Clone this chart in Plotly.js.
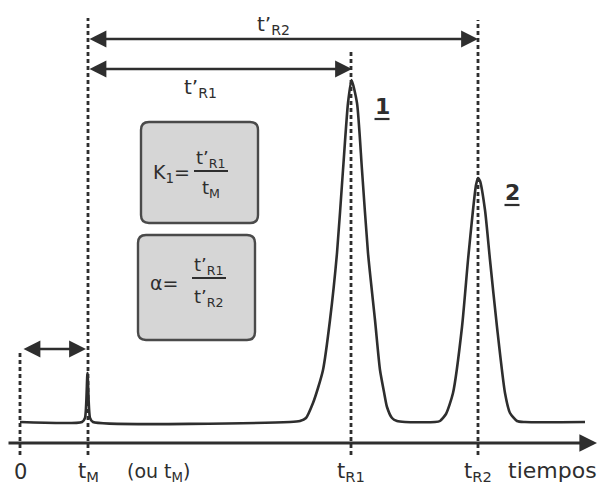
<!DOCTYPE html>
<html>
<head>
<meta charset="utf-8">
<script src="https://cdn.plot.ly/plotly-3.0.1.min.js"></script>
<style>html,body{margin:0;padding:0;background:#fff;}#chart{width:599px;height:490px;}</style>
</head>
<body>
<div id="chart"></div>
<script>
// Chromatogram trace (time units, signal units)
const curveTime = [0, 6.2, 6.5, 6.75, 7.0, 7.3, 27, 28, 28.6, 29.3, 29.8, 30.3, 31, 31.7, 32.3, 32.8, 33.15,
  33.7, 34.2, 34.8, 35.5, 36, 36.4, 36.7, 37.2, 37.7, 38.5, 41.5, 42, 42.6, 43.3, 44.2, 44.8, 45.3, 45.6, 45.8,
  46.0, 46.5, 47, 47.7, 48.5, 49, 49.7, 50.5, 56.5];
const curveSignal = [0, 0, 0.4, 4.9, 0.4, 0, 0, 0.1, 0.4, 1.9, 3.4, 5.2, 10.2, 16.9, 25.2, 31.9, 34.2,
  31.9, 25.2, 16.9, 10.2, 5.2, 3.0, 1.5, 0.4, 0.1, 0, 0, 0.1, 0.8, 2.9, 9.5, 16.2, 21.2, 23.7, 24.4,
  24.1, 21.2, 16.2, 9.5, 2.9, 0.9, 0.1, 0, 0];

// Characteristic times
const markTimes = [0, 6.8, 33.1, 45.8];          // 0, tM, tR1, tR2
const markTops  = [7.2, 40.4, 37.2, 40.2];        // top of dashed guides
const markLabels = ['0', 't<sub>M</sub>', 't<sub>R1</sub>', 't<sub>R2</sub>'];

// Interval arrows: [start, end, level]
const arrowStart = [0.2, 6.8, 6.8];
const arrowEnd   = [6.6, 33.2, 45.8];
const arrowLevel = [7.3, 35.3, 38.3];
const arrowLabels = ['', 't’<sub>R1</sub>', 't’<sub>R2</sub>'];
const arrowLabelX = [0, 18.0, 25.3];
const arrowLabelY = [0, 33.4, 39.7];

// Peak labels
const peakNames = ['<b>1</b>', '<b>2</b>'];
const peakLabelX = [36.2, 49.2];
const peakLabelY = [31.6, 23.0];

// Axis
const axisLevel = -2.1, axisStart = -1.3, axisEnd = 57.7, guideBottom = -3.3;

// Formula boxes: [t0, t1, s0, s1]
const boxT0 = [12.1, 11.8], boxT1 = [23.8, 23.5];
const boxS0 = [19.9, 8.2],  boxS1 = [30.0, 18.7];

const ink = '#2e2e2e';
const fontFam = '"DejaVu Sans", Arial, sans-serif';

const shapes = [];
// dashed guides
markTimes.forEach((t, i) => {
  shapes.push({type: 'line', x0: t, x1: t, y0: guideBottom, y1: markTops[i],
    line: {color: ink, width: 2.8, dash: '4px,3px'}});
});
// boxes with rounded corners
const r = 0.8;
for (let i = 0; i < boxT0.length; i++) {
  const a = boxT0[i], b = boxT1[i], c = boxS0[i], d = boxS1[i];
  const p = `M ${a + r},${c} L ${b - r},${c} Q ${b},${c} ${b},${c + r} L ${b},${d - r} Q ${b},${d} ${b - r},${d} ` +
            `L ${a + r},${d} Q ${a},${d} ${a},${d - r} L ${a},${c + r} Q ${a},${c} ${a + r},${c} Z`;
  shapes.push({type: 'path', path: p, fillcolor: '#d6d6d6', line: {color: '#4a4a4a', width: 2.4}, layer: 'below'});
}
// fraction bars
shapes.push({type: 'line', x0: 17.4, x1: 20.8, y0: 25.1, y1: 25.1, line: {color: ink, width: 2.2}});
shapes.push({type: 'line', x0: 17.2, x1: 20.6, y0: 14.4, y1: 14.4, line: {color: ink, width: 2.2}});
// underline of peak labels
peakLabelX.forEach((x, i) => {
  shapes.push({type: 'line', x0: x - 0.75, x1: x + 0.75, y0: peakLabelY[i] - 1.3, y1: peakLabelY[i] - 1.3,
    line: {color: ink, width: 2.2}});
});

const annotations = [];
// main time axis arrow
annotations.push({x: axisEnd, y: axisLevel, ax: axisStart, ay: axisLevel, axref: 'x', ayref: 'y',
  xref: 'x', yref: 'y', text: '', showarrow: true, arrowhead: 2, arrowsize: 1.1, arrowwidth: 3.2, arrowcolor: ink});
// interval arrows
arrowStart.forEach((s, i) => {
  annotations.push({x: arrowEnd[i], y: arrowLevel[i], ax: s, ay: arrowLevel[i], axref: 'x', ayref: 'y',
    xref: 'x', yref: 'y', text: '', showarrow: true, arrowhead: 2, startarrowhead: 2, arrowside: 'end+start',
    arrowsize: 1.3, startarrowsize: 1.3, arrowwidth: 2.6, arrowcolor: ink});
  if (arrowLabels[i]) annotations.push({x: arrowLabelX[i], y: arrowLabelY[i], text: arrowLabels[i], showarrow: false,
    font: {family: fontFam, size: 20, color: ink}});
});
// axis labels
const labelY = -5.0;
markTimes.forEach((t, i) => {
  annotations.push({x: t, y: labelY, text: markLabels[i], showarrow: false, yanchor: 'middle',
    font: {family: fontFam, size: 21, color: ink}});
});
annotations.push({x: 13.8, y: labelY, text: '(ou t<sub>M</sub>)', showarrow: false,
  font: {family: fontFam, size: 19, color: ink}});
annotations.push({x: 53.2, y: labelY + 0.2, text: 'tiempos', showarrow: false,
  font: {family: fontFam, size: 22, color: ink}});
// peak labels
peakNames.forEach((n, i) => {
  annotations.push({x: peakLabelX[i], y: peakLabelY[i], text: n, showarrow: false,
    font: {family: fontFam, size: 22, color: ink}});
});
// formulas
annotations.push({x: 15.1, y: 24.9, text: 'K<sub>1</sub>=', showarrow: false, font: {family: fontFam, size: 19, color: ink}});
annotations.push({x: 19.1, y: 26.3, text: 't’<sub>R1</sub>', showarrow: false, font: {family: fontFam, size: 18, color: ink}});
annotations.push({x: 19.1, y: 23.3, text: 't<sub>M</sub>', showarrow: false, font: {family: fontFam, size: 18, color: ink}});
annotations.push({x: 14.4, y: 13.9, text: 'α=', showarrow: false, font: {family: fontFam, size: 19, color: ink}});
annotations.push({x: 18.9, y: 15.6, text: 't’<sub>R1</sub>', showarrow: false, font: {family: fontFam, size: 18, color: ink}});
annotations.push({x: 18.9, y: 12.4, text: 't’<sub>R2</sub>', showarrow: false, font: {family: fontFam, size: 18, color: ink}});

const trace = {x: curveTime, y: curveSignal, type: 'scatter', mode: 'lines',
  line: {color: ink, width: 2.6, shape: 'spline', smoothing: 0.6}, hoverinfo: 'none'};

const hidden = {showgrid: false, zeroline: false, showticklabels: false, showline: false, ticks: '', fixedrange: true};
const layout = {
  width: 599, height: 490, margin: {l: 0, r: 0, t: 0, b: 0},
  paper_bgcolor: '#ffffff', plot_bgcolor: '#ffffff', showlegend: false,
  xaxis: Object.assign({range: [-2.0, 57.9]}, hidden),
  yaxis: Object.assign({range: [-6.8, 42.2]}, hidden),
  shapes: shapes, annotations: annotations
};
Plotly.newPlot('chart', [trace], layout, {staticPlot: true, displayModeBar: false});
</script>
</body>
</html>
